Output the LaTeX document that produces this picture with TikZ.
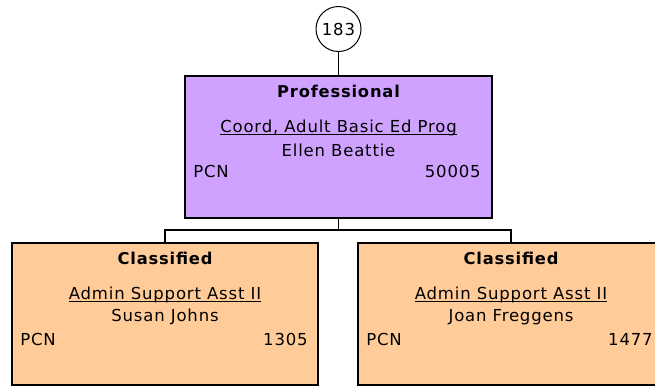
\documentclass[tikz,border=0pt]{standalone}
\usepackage{fontspec}
\setmainfont{DejaVu Sans}[LetterSpace=5]
\usetikzlibrary{calc}
\definecolor{purp}{RGB}{208,162,255}
\definecolor{peach}{RGB}{255,204,153}
\tikzset{
  box/.style={draw=black, line width=1.8pt, minimum width=306pt, minimum height=142pt, inner sep=0pt},
  circ/.style={draw=black, line width=1pt, circle, minimum size=45pt, inner sep=0pt, fill=white},
  txt/.style={anchor=base, inner sep=0pt, font=\fontsize{16.5}{19}\selectfont},
  ttl/.style={txt, font=\fontsize{16.3}{19}\selectfont\bfseries},
  lft/.style={txt, anchor=base west},
  rgt/.style={txt, anchor=base east},
  conn/.style={draw=black, line width=1.8pt},
  uline/.style={draw=black, line width=0.9pt}
}
\begin{document}
\begin{tikzpicture}[x=1pt,y=-1pt]
\useasboundingbox (0,0) rectangle (655,386);
\clip (0,0) rectangle (655,386);
% nodes
\node[circ] (top) at (338.5,29) {\fontsize{16.5}{19}\selectfont 183};
\node[box, fill=purp, minimum width=307pt] (p) at (338.5,147) {};
\node[box, fill=peach] (l) at (165,314) {};
\node[box, fill=peach] (r) at (511,314) {};
% connectors
\coordinate (j) at (338.5,230);
\draw[conn] (top.south) -- (p.north);
\draw[conn] (p.south) -- (j);
\draw[conn, line width=1.4pt] (l.north) |- (j) -| (r.north);
% purple box text
\node[ttl] (pt) at ($(p.north)+(0,22)$) {Professional};
\node[txt] (pj) at ($(p.north)+(0,57)$) {Coord, Adult Basic Ed Prog};
\draw[uline] ([yshift=-2pt]pj.base west) -- ([yshift=-2pt]pj.base east);
\node[txt] (pn) at ($(p.north)+(0,81)$) {Ellen Beattie};
\node[lft] (pc) at ($(p.north west)+(9,102)$) {PCN};
\node[rgt] (pv) at ($(p.north east)+(-12,102)$) {50005};
% left box text
\node[ttl] (lt) at ($(l.north)+(0,22)$) {Classified};
\node[txt] (lj) at ($(l.north)+(0,57)$) {Admin Support Asst II};
\draw[uline] ([yshift=-2pt]lj.base west) -- ([yshift=-2pt]lj.base east);
\node[txt] (ln) at ($(l.north)+(0,79)$) {Susan Johns};
\node[lft] (lc) at ($(l.north west)+(9,103)$) {PCN};
\node[rgt] (lv) at ($(l.north east)+(-11,103)$) {1305};
% right box text
\node[ttl] (rt) at ($(r.north)+(0,22)$) {Classified};
\node[txt] (rj) at ($(r.north)+(0,57)$) {Admin Support Asst II};
\draw[uline] ([yshift=-2pt]rj.base west) -- ([yshift=-2pt]rj.base east);
\node[txt] (rn) at ($(r.north)+(0,79)$) {Joan Freggens};
\node[lft] (rc) at ($(r.north west)+(9,103)$) {PCN};
\node[rgt] (rv) at ($(r.north east)+(-12,103)$) {1477};
\end{tikzpicture}
\end{document}
